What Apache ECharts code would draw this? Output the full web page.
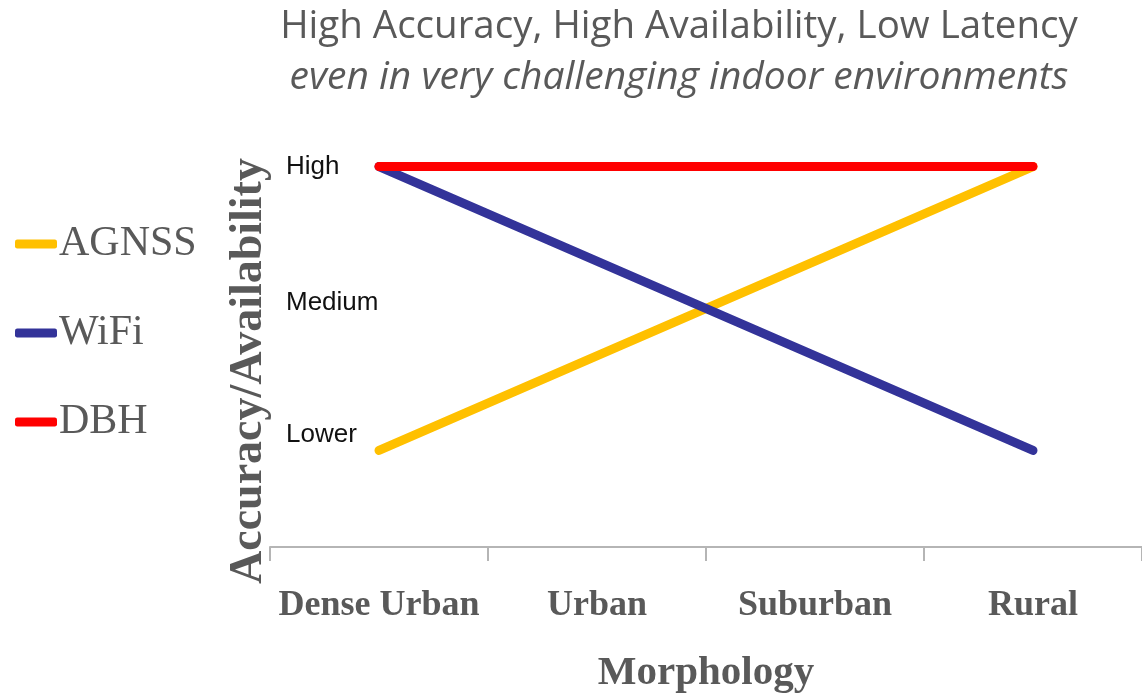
<!DOCTYPE html>
<html>
<head>
<meta charset="utf-8">
<script src="https://cdn.jsdelivr.net/npm/echarts@6/dist/echarts.min.js"></script>
<style>
  html, body { margin: 0; padding: 0; background: #fff; }
  #chart { width: 1142px; height: 700px; }
</style>
</head>
<body>
<div id="chart"></div>
<script>
// カテゴリ（地形）
const categories = ['Dense Urban', 'Urban', 'Suburban', 'Rural'];
// レベル: 1 = Lower, 3 = High（中間点は直線で結ぶ）
const agnss = [1, null, null, 3];
const wifi  = [3, null, null, 1];
const dbh   = [3, null, null, 3];
// Y軸ラベル
const yTickValues = [1.11, 2.04, 3];
const yTickLabels = ['Lower', 'Medium', 'High'];

const gray = '#595959';
const serif = '"Liberation Serif", serif';

const chart = echarts.init(document.getElementById('chart'));

const lineSeries = (name, data, color) => ({
  name: name,
  type: 'line',
  data: data,
  connectNulls: true,
  showSymbol: false,
  symbol: 'none',
  lineStyle: { color: color, width: 9, cap: 'round' },
  itemStyle: { color: color }
});

const option = {
  animation: false,
  title: {
    text: 'High Accuracy, High Availability, Low Latency',
    subtext: 'even in very challenging indoor environments',
    left: 679,
    top: 8,
    padding: 0,
    textAlign: 'center',
    itemGap: 11,
    textStyle: { fontFamily: 'Open Sans', fontSize: 38.5, fontWeight: 'normal', color: gray },
    subtextStyle: { fontFamily: 'Open Sans', fontSize: 39, fontStyle: 'italic', color: gray }
  },
  legend: {
    orient: 'vertical',
    left: 15,
    top: 214,
    padding: 0,
    itemGap: 29,
    icon: 'roundRect',
    itemWidth: 42,
    itemHeight: 9,
    textStyle: { fontFamily: serif, fontSize: 42, lineHeight: 60, color: gray, padding: [0, 0, 0, -3] },
    data: ['AGNSS', 'WiFi', 'DBH']
  },
  grid: { left: 270, right: 0, top: 114, bottom: 153, containLabel: false },
  xAxis: {
    type: 'category',
    data: categories,
    boundaryGap: true,
    axisLine: { lineStyle: { color: '#b5b5b5', width: 2 } },
    axisTick: { show: true, interval: 0, length: 14, lineStyle: { color: '#b5b5b5', width: 2 } },
    axisLabel: {
      interval: 0, margin: 41, fontFamily: serif, fontWeight: 'bold', fontSize: 36,
      lineHeight: 36, color: gray
    },
    name: 'Morphology',
    nameLocation: 'middle',
    nameGap: 106,
    nameTextStyle: { fontFamily: serif, fontWeight: 'bold', fontSize: 41, lineHeight: 41, color: gray }
  },
  yAxis: {
    type: 'value',
    min: 0.32,
    max: 3.37,
    axisLine: { show: false },
    axisTick: { show: false },
    splitLine: { show: false },
    axisLabel: {
      inside: true,
      margin: 16,
      customValues: yTickValues,
      fontFamily: '"Liberation Sans", Arial, sans-serif',
      fontSize: 26,
      color: '#111',
      formatter: v => {
        const i = yTickValues.findIndex(t => Math.abs(t - v) < 1e-6);
        return i >= 0 ? yTickLabels[i] : '';
      }
    }
  },
  graphic: [{
    type: 'text',
    x: 249,
    y: 371,
    rotation: Math.PI / 2,
    style: {
      text: 'Accuracy/Availability',
      fontFamily: serif,
      fontWeight: 'bold',
      fontSize: 46,
      fill: gray,
      align: 'center',
      verticalAlign: 'middle'
    }
  }],
  series: [
    lineSeries('AGNSS', agnss, '#FFC000'),
    lineSeries('WiFi', wifi, '#333399'),
    lineSeries('DBH', dbh, '#FF0000')
  ]
};

chart.setOption(option);
window.addEventListener('resize', () => chart.resize());
</script>
</body>
</html>
